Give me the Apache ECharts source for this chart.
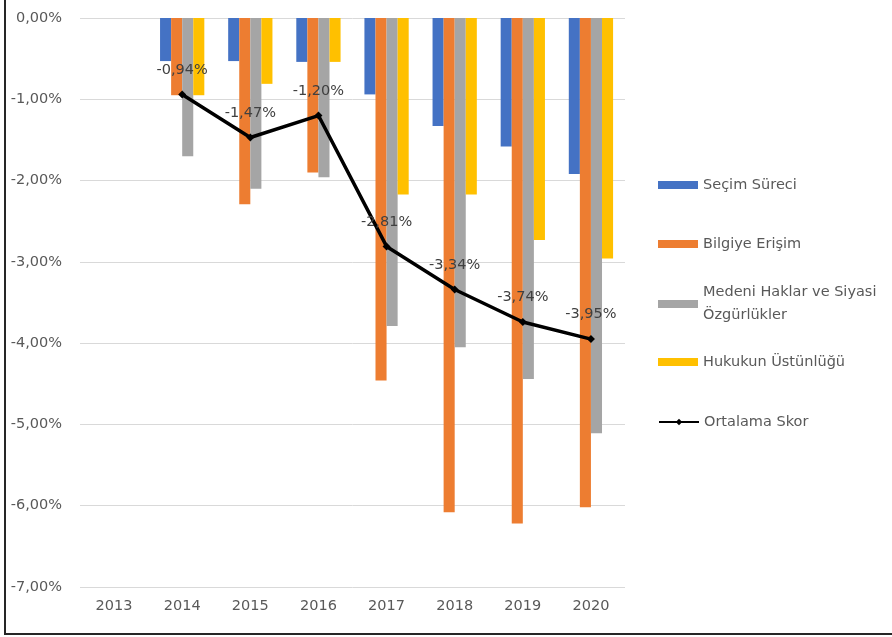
<!DOCTYPE html>
<html>
<head>
<meta charset="utf-8">
<script src="https://cdn.jsdelivr.net/npm/echarts@6/dist/echarts.min.js"></script>
<style>
html,body{margin:0;padding:0;background:#fff;}
#c{width:892px;height:637px;}
</style>
</head>
<body>
<div id="c"></div>
<script>
var categories = ['2013','2014','2015','2016','2017','2018','2019','2020'];
var secimSureci = [null, -0.53, -0.53, -0.54, -0.94, -1.33, -1.58, -1.92];
var bilgiyeErisim = [null, -0.95, -2.29, -1.90, -4.46, -6.08, -6.22, -6.02];
var medeniHaklar = [null, -1.70, -2.10, -1.96, -3.79, -4.05, -4.44, -5.11];
var hukukunUstunlugu = [null, -0.95, -0.81, -0.54, -2.17, -2.17, -2.73, -2.96];
var ortalamaSkor = [null, -0.94, -1.47, -1.20, -2.81, -3.34, -3.74, -3.95];
var seriesNames = ['Seçim Süreci','Bilgiye Erişim','Medeni Haklar ve Siyasi\nÖzgürlükler','Hukukun Üstünlüğü','Ortalama Skor'];

var FONT = 'DejaVu Sans';
var FS = 14.5;
function pct(v){ return (v === 0 ? '0.00' : v.toFixed(2)).replace('.', ',') + '%'; }

var chart = echarts.init(document.getElementById('c'));
function barSeries(name, data, color){
  return {
    name: name, type: 'bar', data: data, barGap: '0%', barCategoryGap: '35%',
    itemStyle: { color: color }
  };
}
function legendItem(name, top, icon, extra){
  var l = {
    data: [{ name: name, icon: icon }], orient: 'vertical', left: 658, top: top, padding: 0,
    itemWidth: 40, itemHeight: 8, itemGap: 0, selectedMode: false,
    textStyle: { fontFamily: FONT, fontSize: FS, color: '#595959', lineHeight: 20 }
  };
  if (!icon) l.data = [name];
  if (extra) { for (var k in extra) l.textStyle[k] = extra[k]; }
  return l;
}
chart.setOption({
  animation: false,
  backgroundColor: '#fff',
  grid: { left: 80, right: 267, top: 18, bottom: 50 },
  xAxis: {
    type: 'category', data: categories,
    axisLine: { show: false, onZero: false }, axisTick: { show: false },
    axisLabel: { fontFamily: FONT, fontSize: FS, color: '#595959', margin: 12 }
  },
  yAxis: {
    type: 'value', min: -7, max: 0, interval: 1,
    axisLine: { show: false }, axisTick: { show: false },
    splitLine: { lineStyle: { color: '#d9d9d9', width: 1 } },
    axisLabel: { fontFamily: FONT, fontSize: FS, color: '#595959', margin: 18, formatter: pct }
  },
  legend: [
    legendItem(seriesNames[0], 175, 'rect'),
    legendItem(seriesNames[1], 234, 'rect'),
    legendItem(seriesNames[2], 304 - 34.5, 'rect', { lineHeight: 23, padding: [23, 0, 0, 0] }),
    legendItem(seriesNames[3], 352, 'rect'),
    legendItem(seriesNames[4], 412, null)
  ],
  series: [
    barSeries(seriesNames[0], secimSureci, '#4472C4'),
    barSeries(seriesNames[1], bilgiyeErisim, '#ED7D31'),
    barSeries(seriesNames[2], medeniHaklar, '#A5A5A5'),
    barSeries(seriesNames[3], hukukunUstunlugu, '#FFC000'),
    {
      name: seriesNames[4], type: 'line', data: ortalamaSkor, z: 10,
      symbol: 'diamond', symbolSize: 8,
      lineStyle: { color: '#000', width: 3.5 }, itemStyle: { color: '#000' },
      label: {
        show: true, position: 'top', distance: 13,
        fontFamily: FONT, fontSize: FS, color: '#404040',
        formatter: function(p){ return pct(p.value); }
      }
    }
  ],
  graphic: [
    { type: 'line', shape: { x1: 5, y1: 0, x2: 5, y2: 635 }, style: { stroke: '#262626', lineWidth: 2 } },
    { type: 'line', shape: { x1: 4, y1: 634, x2: 892, y2: 634 }, style: { stroke: '#262626', lineWidth: 2 } }
  ]
});
</script>
</body>
</html>
